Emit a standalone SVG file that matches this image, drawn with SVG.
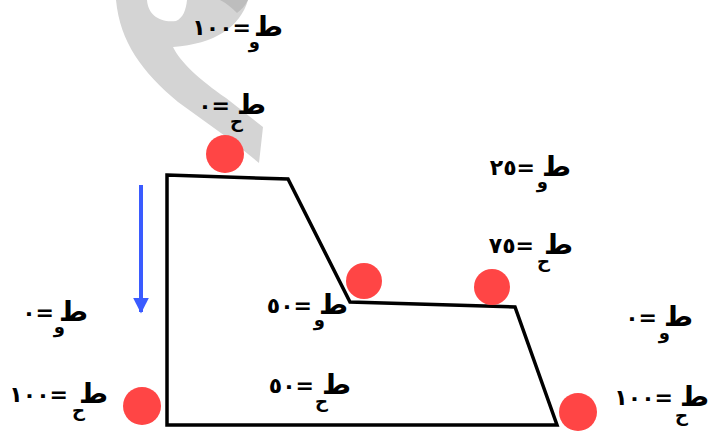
<svg xmlns="http://www.w3.org/2000/svg" width="709" height="434" viewBox="0 0 709 434">
<style>
.m{font-family:"DejaVu Sans",sans-serif;font-size:28px;font-weight:bold;fill:#000;text-anchor:end}
.s{font-family:"DejaVu Sans",sans-serif;font-size:18px;font-weight:bold;fill:#000;text-anchor:end}
.e{font-family:"DejaVu Sans",sans-serif;font-size:22px;font-weight:bold;fill:#000;text-anchor:end;direction:ltr;unicode-bidi:bidi-override;letter-spacing:2px}
.ball{fill:#ff4545}
</style>
<defs>
<marker id="ah" viewBox="0 0 10 10" refX="9" refY="5" markerWidth="4" markerHeight="4.5" orient="auto" markerUnits="strokeWidth">
<path d="M0,0 L10,5 L0,10 Z" fill="#3a5bff"/>
</marker>
</defs>
<rect width="709" height="434" fill="#fff"/>
<g id="watermark">
<path d="M116 0 L147 0 C148 15 160 23 176 21 C183 18 186 10 187 0 L248 0 C240 27 215 44 173 47 C180 62 200 80 226 98 L263 127 L259 163 L232 141 L178 102 C142 72 120 42 116 0 Z" fill="#d4d4d4"/>
<path d="M220 0 L248 0 C245 6 241 10 237 13 C232 8 226 3 220 0 Z" fill="#bdbdbd"/>
</g>
<g id="shape">
<polygon points="167,175 288,179 350,302 515,307 557,425 167,425" fill="none" stroke="#000" stroke-width="3.5" stroke-linejoin="miter"/>
</g>
<g id="balls">
<circle id="b1" class="ball" cx="225" cy="154" r="19"/>
<circle id="b2" class="ball" cx="364" cy="281" r="18"/>
<circle id="b3" class="ball" cx="492" cy="287" r="18"/>
<circle id="b4" class="ball" cx="142" cy="406" r="19"/>
<circle id="b5" class="ball" cx="578" cy="412" r="19"/>
</g>
<g id="connectors">
<line x1="141" y1="185" x2="141" y2="312" stroke="#3a5bff" stroke-width="4" marker-end="url(#ah)"/>
</g>
<g id="l1"><text class="m" x="283" y="36">ط</text><text class="s" x="260" y="48">و</text><text class="e" x="251" y="35">١٠٠=</text></g>
<g id="l2"><text class="m" x="266" y="114">ط</text><text class="s" x="243" y="128">ح</text><text class="e" x="230" y="113">٠=</text></g>
<g id="l3"><text class="m" x="571" y="176">ط</text><text class="s" x="548" y="188">و</text><text class="e" x="535" y="175">٢٥=</text></g>
<g id="l4"><text class="m" x="573" y="254">ط</text><text class="s" x="550" y="268">ح</text><text class="e" x="534" y="253">٧٥=</text></g>
<g id="l5"><text class="m" x="88" y="321">ط</text><text class="s" x="65" y="333">و</text><text class="e" x="54" y="320">٠=</text></g>
<g id="l6"><text class="m" x="108" y="403">ط</text><text class="s" x="85" y="417">ح</text><text class="e" x="68" y="402">١٠٠=</text></g>
<g id="l7"><text class="m" x="348" y="314">ط</text><text class="s" x="325" y="326">و</text><text class="e" x="312" y="313">٥٠=</text></g>
<g id="l8"><text class="m" x="351" y="394">ط</text><text class="s" x="328" y="408">ح</text><text class="e" x="314" y="393">٥٠=</text></g>
<g id="l9"><text class="m" x="693" y="326">ط</text><text class="s" x="670" y="339">و</text><text class="e" x="657" y="325">٠=</text></g>
<g id="l10"><text class="m" x="709" y="406">ط</text><text class="s" x="688" y="422">ح</text><text class="e" x="673" y="405">١٠٠=</text></g>
</svg>
